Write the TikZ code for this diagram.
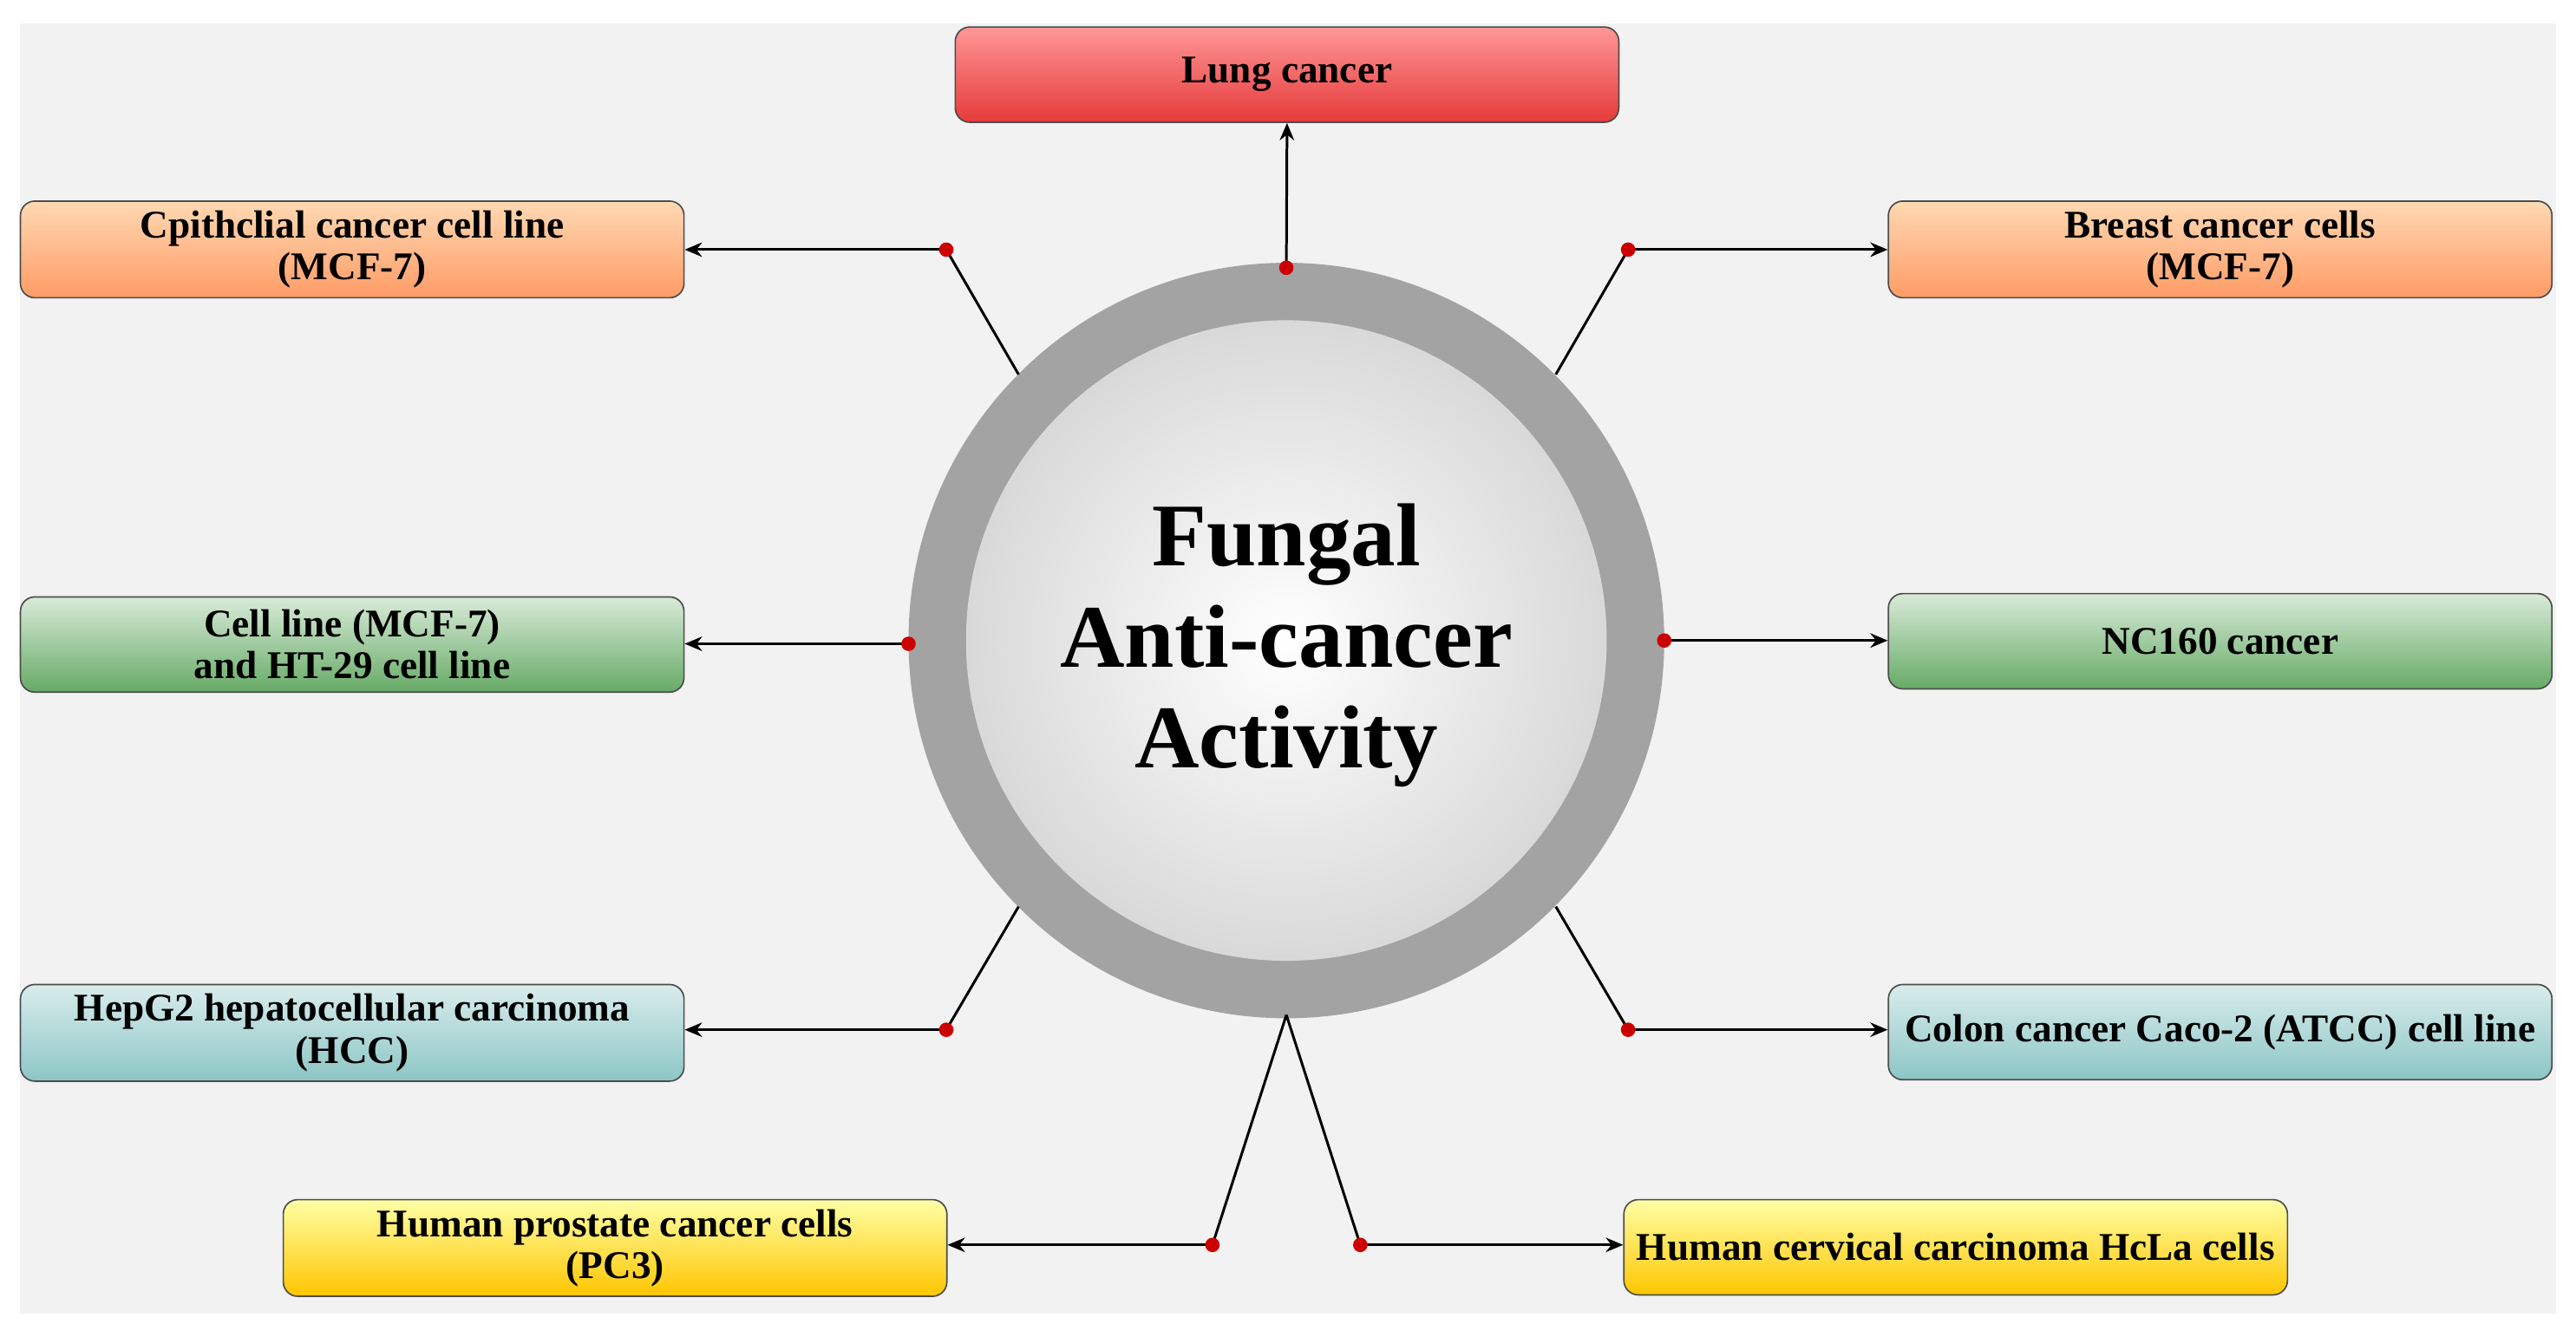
\documentclass[tikz,border=0pt]{standalone}
\usepackage{fontspec}
\setmainfont{Liberation Serif}
\usetikzlibrary{arrows.meta}
\begin{document}
\begin{tikzpicture}[x=0.02cm,y=-0.02cm,
 box/.style={draw=black!70,rounded corners=5pt,minimum width=8.08cm,minimum height=1.16cm,align=center,font=\bfseries\fontsize{13.6}{14.5}\selectfont,anchor=north west,line width=0.5pt,inner xsep=2pt},
 red/.style={top color=red!35!pink!80,bottom color=red!75!white!90!black},
 ora/.style={top color=orange!30!white,bottom color=orange!70!red!60!white},
 grn/.style={top color=green!45!black!15!white,bottom color=green!45!black!60!white},
 tea/.style={top color=teal!15!white,bottom color=teal!45!white},
 yel/.style={top color=yellow!35!white,bottom color=orange!45!yellow},
 con/.style={line width=0.9pt},
 arr/.style={line width=0.9pt,-{Stealth[length=6pt,width=5pt]}},
 dot/.style={circle,fill=red!80!black,inner sep=0pt,minimum size=5pt}]
\useasboundingbox (0,0) rectangle (1568,813.6);
\fill[white] (0,0) rectangle (1568,813.6);
\fill[black!5] (12,14) rectangle (1556,800);
% circle
\fill[black!36] (783,390) circle (230);
\shade[inner color=white,outer color=black!15] (783,390) circle (195);
\node[font=\bfseries\fontsize{31}{35}\selectfont,align=center] (c) at (783,393) {Fungal\\Anti-cancer\\Activity};
% boxes
\node[box,red] (lung) at (581,16) {Lung cancer};
\node[box,ora] (cpi) at (12,122) {Cpithclial cancer cell line\\(MCF-7)};
\node[box,ora] (bre) at (1149,122) {Breast cancer cells\\(MCF-7)};
\node[box,grn] (cel) at (12,363) {Cell line (MCF-7)\\and HT-29 cell line};
\node[box,grn] (nc) at (1149,361) {NC160 cancer};
\node[box,tea] (hep) at (12,599) {HepG2 hepatocellular carcinoma\\(HCC)};
\node[box,tea] (col) at (1149,599) {Colon cancer Caco-2 (ATCC) cell line};
\node[box,yel] (pro) at (172,730) {Human prostate cancer cells\\(PC3)};
\node[box,yel] (cer) at (988,730) {Human cervical carcinoma HcLa cells};
% coordinates
\coordinate (tl) at (783,163);
\coordinate (a1) at (620,228); \coordinate (d1) at (576,152);
\coordinate (a2) at (947,228); \coordinate (d2) at (991,152);
\coordinate (d3) at (553,392); \coordinate (d4) at (1013,390);
\coordinate (a5) at (620,552); \coordinate (d5) at (576,627);
\coordinate (a6) at (947,552); \coordinate (d6) at (991,627);
\coordinate (b) at (783,618);
\coordinate (d7) at (738,758); \coordinate (d8) at (828,758);
% connectors
\draw[arr] (tl) -- (lung.south);
\draw[con] (a1) -- (d1); \draw[arr] (d1) -- (cpi.east|-d1);
\draw[con] (a2) -- (d2); \draw[arr] (d2) -- (bre.west|-d2);
\draw[arr] (d3) -- (cel.east|-d3);
\draw[arr] (d4) -- (nc.west|-d4);
\draw[con] (a5) -- (d5); \draw[arr] (d5) -- (hep.east|-d5);
\draw[con] (a6) -- (d6); \draw[arr] (d6) -- (col.west|-d6);
\draw[con] (b) -- (d7); \draw[arr] (d7) -- (pro.east|-d7);
\draw[con] (b) -- (d8); \draw[arr] (d8) -- (cer.west|-d8);
\foreach \p in {tl,d1,d2,d3,d4,d5,d6,d7,d8} \node[dot] at (\p) {};
\end{tikzpicture}
\end{document}
